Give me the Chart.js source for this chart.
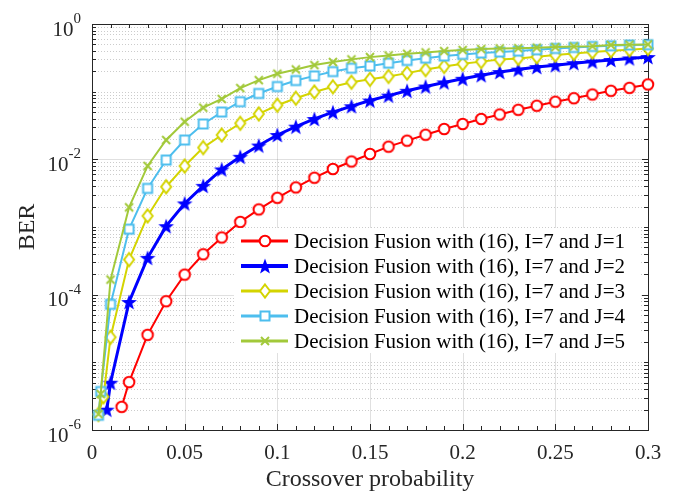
<!DOCTYPE html>
<html>
<head>
<meta charset="utf-8">
<script src="https://cdn.jsdelivr.net/npm/chart.js@4.4.0/dist/chart.umd.min.js"></script>
<style>
  html, body { margin: 0; padding: 0; background: #fff; }
  #wrap { width: 674px; height: 493px; }
</style>
</head>
<body>
<div id="wrap"><canvas id="berChart" width="674" height="493"></canvas></div>
<script>
// crossover probabilities on the regular grid
const crossover = [0.01, 0.02, 0.03, 0.04, 0.05, 0.06, 0.07, 0.08, 0.09, 0.10,
                   0.11, 0.12, 0.13, 0.14, 0.15, 0.16, 0.17, 0.18, 0.19, 0.20,
                   0.21, 0.22, 0.23, 0.24, 0.25, 0.26, 0.27, 0.28, 0.29, 0.30];

// BER values for each J (null = no point there)
const berJ1 = [null, 5.1e-6, 2.55e-5, 8.0e-5, 1.98e-4, 3.95e-4, 7.0e-4, 1.19e-3, 1.82e-3, 2.7e-3,
               3.85e-3, 5.35e-3, 7.2e-3, 9.3e-3, 1.2e-2, 1.54e-2, 1.89e-2, 2.31e-2, 2.81e-2, 3.33e-2,
               3.95e-2, 4.6e-2, 5.4e-2, 6.2e-2, 7.1e-2, 8.0e-2, 9.1e-2, 0.103, 0.114, 0.128];
const berJ2 = [5.0e-6, 7.8e-5, 3.5e-4, 1.03e-3, 2.23e-3, 4.06e-3, 7.1e-3, 1.09e-2, 1.6e-2, 2.29e-2,
               3.04e-2, 3.95e-2, 4.97e-2, 6.1e-2, 7.4e-2, 8.75e-2, 0.103, 0.119, 0.137, 0.155,
               0.175, 0.195, 0.212, 0.231, 0.246, 0.264, 0.278, 0.294, 0.31, 0.325];
const berJ3 = [2.35e-5, 3.3e-4, 1.46e-3, 3.93e-3, 7.96e-3, 1.49e-2, 2.29e-2, 3.41e-2, 4.69e-2, 6.3e-2,
               8.0e-2, 9.9e-2, 0.118, 0.138, 0.152, 0.168, 0.188, 0.212, 0.236, 0.258,
               0.278, 0.298, 0.31, 0.328, 0.347, 0.367, 0.385, 0.402, 0.416, 0.435];
const berJ4 = [7.2e-5, 9.3e-4, 3.72e-3, 9.77e-3, 1.93e-2, 3.33e-2, 5.0e-2, 7.1e-2, 9.4e-2, 0.119,
               0.146, 0.171, 0.198, 0.222, 0.24, 0.264, 0.289, 0.313, 0.336, 0.355,
               0.372, 0.385, 0.398, 0.416, 0.435, 0.45, 0.466, 0.477, 0.489, 0.494];
const berJ5 = [1.67e-4, 1.95e-3, 8.0e-3, 1.93e-2, 3.6e-2, 5.8e-2, 7.8e-2, 0.113, 0.148, 0.184,
               0.213, 0.247, 0.274, 0.3, 0.324, 0.343, 0.363, 0.38, 0.398, 0.412,
               0.426, 0.435, 0.44, 0.447, 0.456, 0.466, 0.471, 0.489, 0.494, 0.499];

// extra points below 0.02 where each curve starts
const headJ1X = [0.016], headJ1 = [2.2e-6];
const headJ2X = [0.008], headJ2 = [2.0e-6];
const headJ3X = [0.0035, 0.0062], headJ3 = [1.7e-6, 3.1e-6];
const headJ4X = [0.0035, 0.0047], headJ4 = [1.65e-6, 3.7e-6];
const headJ5X = [0.0035, 0.0047], headJ5 = [1.72e-6, 3.4e-6];

const seriesLabels = [
  'Decision Fusion with (16), I=7 and J=1',
  'Decision Fusion with (16), I=7 and J=2',
  'Decision Fusion with (16), I=7 and J=3',
  'Decision Fusion with (16), I=7 and J=4',
  'Decision Fusion with (16), I=7 and J=5'
];

const xTicks = [0, 0.05, 0.1, 0.15, 0.2, 0.25, 0.3];
const xTickLabels = ['0', '0.05', '0.1', '0.15', '0.2', '0.25', '0.3'];
const yTickExponents = [-6, -4, -2, 0];

const SERIF = '"Liberation Serif", "Times New Roman", serif';

function makeMarker(draw) {
  const c = document.createElement('canvas');
  c.width = 18; c.height = 18;
  const g = c.getContext('2d');
  g.translate(9, 9);
  draw(g);
  return c;
}

const markCircle = makeMarker(g => {
  g.beginPath(); g.arc(0, 0, 5.3, 0, Math.PI * 2);
  g.fillStyle = '#fff'; g.fill();
  g.strokeStyle = '#ff0000'; g.lineWidth = 2; g.stroke();
});
const markStar = makeMarker(g => {
  g.beginPath();
  for (let i = 0; i < 10; i++) {
    const r = i % 2 === 0 ? 8.3 : 3.4;
    const a = -Math.PI / 2 + i * Math.PI / 5;
    g.lineTo(r * Math.cos(a), r * Math.sin(a) + 0.8);
  }
  g.closePath();
  g.fillStyle = '#0000ff'; g.fill();
});
const markDiamond = makeMarker(g => {
  g.beginPath();
  g.moveTo(0, -6.5); g.lineTo(5, 0); g.lineTo(0, 6.5); g.lineTo(-5, 0); g.closePath();
  g.fillStyle = '#fff'; g.fill();
  g.strokeStyle = '#d4d400'; g.lineWidth = 2; g.stroke();
});
const markSquare = makeMarker(g => {
  g.fillStyle = '#fff'; g.fillRect(-4.5, -4.5, 9, 9);
  g.strokeStyle = '#4dbeee'; g.lineWidth = 2; g.strokeRect(-4.5, -4.5, 9, 9);
});
const markX = makeMarker(g => {
  g.beginPath();
  g.moveTo(-4, -4); g.lineTo(4, 4); g.moveTo(-4, 4); g.lineTo(4, -4);
  g.strokeStyle = '#a2c93a'; g.lineWidth = 2; g.stroke();
});

function buildPoints(hx, hy, vals) {
  const pts = hx.map((x, i) => ({ x: x, y: hy[i] }));
  crossover.forEach((x, i) => { if (vals[i] !== null) pts.push({ x: x, y: vals[i] }); });
  return pts;
}

const colors = ['#ff0000', '#0000ff', '#d4d400', '#4dbeee', '#a2c93a'];
const widths = [2, 3, 2, 2, 2];
const markers = [markCircle, markStar, markDiamond, markSquare, markX];
const allData = [
  buildPoints(headJ1X, headJ1, berJ1),
  buildPoints(headJ2X, headJ2, berJ2),
  buildPoints(headJ3X, headJ3, berJ3),
  buildPoints(headJ4X, headJ4, berJ4),
  buildPoints(headJ5X, headJ5, berJ5)
];

const datasets = allData.map((d, i) => ({
  label: seriesLabels[i],
  data: d,
  showLine: true,
  borderColor: colors[i],
  backgroundColor: colors[i],
  borderWidth: widths[i],
  pointStyle: markers[i],
  pointRadius: 6,
  pointHoverRadius: 6,
  tension: 0,
  clip: false,
  order: 5 - i
}));

// grid, inward ticks and box like the original figure
const axesPlugin = {
  id: 'axesPlugin',
  beforeDatasetsDraw(chart) {
    const { ctx, chartArea: a, scales: { x, y } } = chart;
    ctx.save();
    ctx.lineWidth = 1;
    // minor y grid, dotted
    ctx.strokeStyle = 'rgba(0,0,0,0.2)';
    ctx.setLineDash([1, 2]);
    for (let e = -6; e < 0; e++) {
      for (let m = 1; m <= 9; m++) {
        if (m === 1 && e % 2 === 0) continue;
        const py = Math.round(y.getPixelForValue(m * Math.pow(10, e))) + 0.5;
        ctx.beginPath(); ctx.moveTo(a.left, py); ctx.lineTo(a.right, py); ctx.stroke();
      }
    }
    ctx.setLineDash([]);
    // major grid
    ctx.strokeStyle = 'rgba(0,0,0,0.12)';
    xTicks.forEach(v => {
      const px = Math.round(x.getPixelForValue(v)) + 0.5;
      ctx.beginPath(); ctx.moveTo(px, a.top); ctx.lineTo(px, a.bottom); ctx.stroke();
    });
    yTickExponents.forEach(e => {
      const py = Math.round(y.getPixelForValue(Math.pow(10, e))) + 0.5;
      ctx.beginPath(); ctx.moveTo(a.left, py); ctx.lineTo(a.right, py); ctx.stroke();
    });
    // box
    ctx.strokeStyle = '#262626';
    ctx.strokeRect(Math.round(a.left) + 0.5, Math.round(a.top) + 0.5,
                   Math.round(a.right - a.left), Math.round(a.bottom - a.top));
    // inward ticks
    ctx.beginPath();
    for (let k = 0; k <= 30; k++) {
      const px = Math.round(x.getPixelForValue(k / 100)) + 0.5;
      const len = k % 5 === 0 ? 6 : 4;
      ctx.moveTo(px, a.bottom); ctx.lineTo(px, a.bottom - len);
      ctx.moveTo(px, a.top); ctx.lineTo(px, a.top + len);
    }
    for (let e = -6; e < 0; e++) {
      for (let m = 1; m <= 9; m++) {
        const py = Math.round(y.getPixelForValue(m * Math.pow(10, e))) + 0.5;
        const len = (m === 1 && e % 2 === 0) ? 6 : 4;
        ctx.moveTo(a.left, py); ctx.lineTo(a.left + len, py);
        ctx.moveTo(a.right, py); ctx.lineTo(a.right - len, py);
      }
    }
    ctx.stroke();
    // y tick labels with superscript exponents
    ctx.fillStyle = '#262626';
    ctx.textBaseline = 'middle';
    yTickExponents.forEach(e => {
      const py = y.getPixelForValue(Math.pow(10, e));
      const exp = String(e);
      ctx.font = '15px ' + SERIF;
      const ew = ctx.measureText(exp).width;
      const right = 81;
      ctx.textAlign = 'left';
      ctx.fillText(exp, right - ew, py - 5);
      ctx.font = '21px ' + SERIF;
      ctx.textAlign = 'right';
      ctx.fillText('10', right - ew, py + 6);
    });
    ctx.restore();
  },
  afterDraw(chart) {
    const ctx = chart.ctx;
    ctx.save();
    ctx.fillStyle = '#fff';
    ctx.fillRect(234, 228, 407, 125);
    chart.data.datasets.forEach((ds, i) => {
      const yy = 241 + i * 25;
      ctx.strokeStyle = ds.borderColor;
      ctx.lineWidth = ds.borderWidth + 1;
      ctx.beginPath(); ctx.moveTo(241, yy); ctx.lineTo(288, yy); ctx.stroke();
      const m = ds.pointStyle;
      ctx.drawImage(m, 265 - m.width / 2, yy - m.height / 2);
      ctx.fillStyle = '#000';
      ctx.font = '21px ' + SERIF;
      ctx.textAlign = 'left';
      ctx.textBaseline = 'middle';
      ctx.fillText(ds.label, 294, yy + 1);
    });
    ctx.restore();
  }
};

new Chart(document.getElementById('berChart'), {
  type: 'scatter',
  data: { datasets: datasets },
  options: {
    responsive: false,
    animation: false,
    events: [],
    layout: { padding: { top: 24, right: 26, bottom: 0, left: 0 } },
    plugins: { legend: { display: false }, tooltip: { enabled: false } },
    scales: {
      x: {
        type: 'linear',
        min: 0, max: 0.3,
        afterBuildTicks: s => { s.ticks = xTicks.map(v => ({ value: v })); },
        afterFit: s => { s.height = 63; },
        grid: { display: false, drawTicks: false },
        border: { display: false },
        ticks: {
          padding: 11,
          color: '#262626',
          font: { family: SERIF, size: 21 },
          maxRotation: 0,
          callback: (v, i) => xTickLabels[i]
        },
        title: {
          display: true,
          text: 'Crossover probability',
          color: '#262626',
          font: { family: SERIF, size: 24, lineHeight: 1 },
          padding: { top: 0, bottom: 1 }
        }
      },
      y: {
        type: 'logarithmic',
        min: 1e-6, max: 1,
        afterFit: s => { s.width = 92; },
        grid: { display: false, drawTicks: false },
        border: { display: false },
        ticks: { display: false },
        title: {
          display: true,
          text: 'BER',
          color: '#262626',
          font: { family: SERIF, size: 24, lineHeight: 1 },
          padding: { top: 16, bottom: 0 }
        }
      }
    }
  },
  plugins: [axesPlugin]
});
</script>
</body>
</html>
